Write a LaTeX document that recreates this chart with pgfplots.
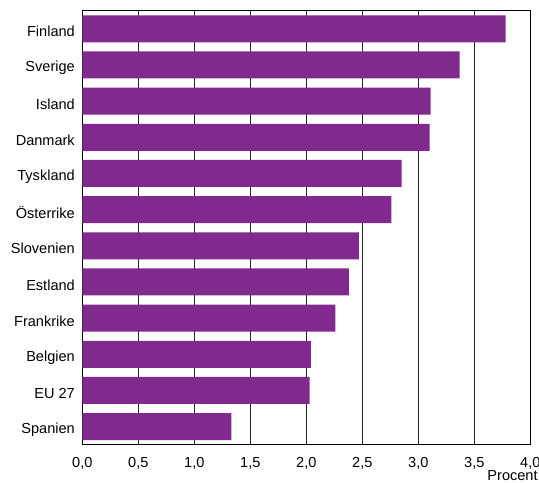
\documentclass[border=0pt]{standalone}
\usepackage{pgfplots}
\pgfplotsset{compat=1.18}
\usepackage{fontspec}
\setmainfont{Liberation Sans}
\definecolor{barpurple}{RGB}{128,42,142}
\begin{document}
\begin{tikzpicture}
\begin{axis}[
  name=ax,
  scale only axis,
  width=448bp, height=434bp,
  xbar, bar width=27bp,
  xmin=0, xmax=4, ymin=-0.5, ymax=11.5,
  y dir=reverse,
  ytick={0,...,11},
  yticklabels={Finland,Sverige,Island,Danmark,Tyskland,Österrike,Slovenien,Estland,Frankrike,Belgien,EU 27,Spanien},
  xtick={0,0.5,...,4},
  major tick length=0pt,
  xmajorgrids,
  grid style={black!85, line width=0.8bp},
  axis line style={black, line width=0.8bp},
  tick label style={font=\fontsize{14.6}{16}\selectfont},
  xticklabel style={yshift=-9bp},
  yticklabel style={xshift=-4bp, yshift=-3bp},
  /pgf/number format/.cd, use comma, fixed, fixed zerofill, precision=1, assume math mode=true,
  /pgfplots/.cd,
  xlabel={Procent},
  xlabel style={at={(rel axis cs:1,0)}, anchor=north east, xshift=7.5bp, yshift=-25.5bp, font=\fontsize{14.6}{16}\selectfont, inner sep=0pt},
]
\addplot[fill=barpurple, draw=none] coordinates {
(3.78,0) (3.37,1) (3.11,2) (3.10,3) (2.85,4) (2.76,5) (2.47,6) (2.38,7) (2.26,8) (2.04,9) (2.03,10) (1.33,11)
};
\end{axis}
\pgfresetboundingbox
\path[use as bounding box] ([xshift=-82.3bp,yshift=-38.3bp]ax.south west) rectangle ([xshift=8.7bp,yshift=10.7bp]ax.north east);
\end{tikzpicture}
\end{document}
